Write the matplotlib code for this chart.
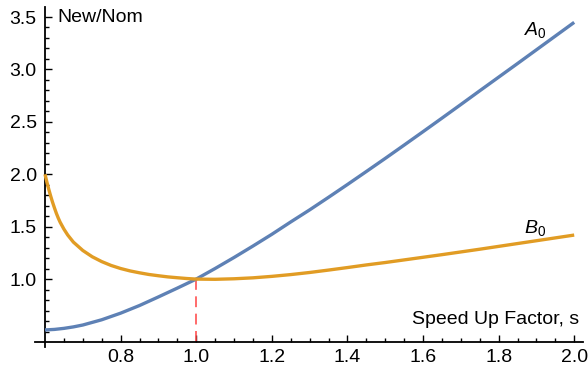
import matplotlib
matplotlib.use("Agg")
import matplotlib.pyplot as plt
import numpy as np
from matplotlib.ticker import FixedLocator

plt.rcParams['font.family'] = ['Liberation Sans', 'DejaVu Sans']
plt.rcParams['mathtext.fontset'] = 'custom'
plt.rcParams['mathtext.rm'] = 'Liberation Sans'
plt.rcParams['mathtext.it'] = 'Liberation Sans:italic'

# Data
s_A = [0.60, 0.625, 0.65, 0.675, 0.70, 0.75, 0.80, 0.85, 0.90, 0.95, 1.00, 1.05, 1.10, 1.15,
       1.20, 1.25, 1.30, 1.35, 1.40, 1.45, 1.50, 1.55, 1.60, 1.65, 1.70, 1.75,
       1.80, 1.85, 1.90, 1.95, 2.00]
A0 = [0.515, 0.520, 0.530, 0.544, 0.562, 0.612, 0.675, 0.748, 0.830, 0.914, 1.000, 1.101, 1.206,
      1.315, 1.427, 1.545, 1.660, 1.780, 1.902, 2.026, 2.151, 2.278, 2.406, 2.535,
      2.665, 2.796, 2.926, 3.056, 3.187, 3.318, 3.449]

s_B = [0.600, 0.605, 0.610, 0.615, 0.620, 0.625, 0.630, 0.635, 0.640, 0.650, 0.660,
       0.675, 0.700, 0.725, 0.750, 0.775, 0.800, 0.825, 0.850, 0.875, 0.900, 0.925,
       0.950, 0.975, 1.000, 1.050, 1.100, 1.150, 1.200, 1.250, 1.300, 1.350, 1.400,
       1.450, 1.500, 1.550, 1.600, 1.650, 1.700, 1.750, 1.800, 1.850, 1.900, 1.950,
       2.000]
B0 = [2.000, 1.925, 1.856, 1.792, 1.733, 1.679, 1.628, 1.583, 1.543, 1.477, 1.421,
      1.353, 1.273, 1.213, 1.167, 1.130, 1.101, 1.078, 1.060, 1.044, 1.032, 1.021,
      1.013, 1.0055, 1.000, 0.998, 1.003, 1.012, 1.026, 1.043, 1.063, 1.086, 1.110,
      1.135, 1.158, 1.183, 1.208, 1.233, 1.259, 1.285, 1.312, 1.339, 1.366, 1.393,
      1.420]

x_major = [0.8, 1.0, 1.2, 1.4, 1.6, 1.8, 2.0]
x_labels = ["0.8", "1.0", "1.2", "1.4", "1.6", "1.8", "2.0"]
y_major = [1.0, 1.5, 2.0, 2.5, 3.0, 3.5]
y_labels = ["1.0", "1.5", "2.0", "2.5", "3.0", "3.5"]
x_minor = [0.65, 0.70, 0.75, 0.85, 0.90, 0.95, 1.05, 1.10, 1.15, 1.25, 1.30, 1.35,
           1.45, 1.50, 1.55, 1.65, 1.70, 1.75, 1.85, 1.90, 1.95]
y_minor = [0.5, 0.6, 0.7, 0.8, 0.9, 1.1, 1.2, 1.3, 1.4, 1.6, 1.7, 1.8, 1.9, 2.1,
           2.2, 2.3, 2.4, 2.6, 2.7, 2.8, 2.9, 3.1, 3.2, 3.3, 3.4]
s_mark = 1.0
v_mark = 1.0

blue = '#5E81B5'
orange = '#E19C24'
FS = 14

fig = plt.figure(figsize=(5.88, 3.75), dpi=100)
ax = fig.add_axes([35/588, 1 - 347/375, (583 - 35)/588, (347 - 7)/375])
ax.set_xlim(0.6 - 10/378, 0.6 + (583 - 45)/378)
ax.set_ylim(0.4 - 5/104.8, 3.5 + 10/104.8)

ax.plot(s_A, A0, color=blue, lw=2.4, solid_capstyle='butt', zorder=3)
ax.plot(s_B, B0, color=orange, lw=2.4, solid_capstyle='butt', zorder=4)
ax.plot([s_mark, s_mark], [v_mark, 0.4], color='#FF4444', alpha=0.85, lw=1.3,
        linestyle=(0, (6.0, 3.6)), zorder=2)

for side in ['top', 'right']:
    ax.spines[side].set_visible(False)
ax.spines['left'].set_position(('data', 0.6))
ax.spines['bottom'].set_position(('data', 0.4))
for side in ['left', 'bottom']:
    ax.spines[side].set_linewidth(1.3)
    ax.spines[side].set_color('black')

ax.xaxis.set_major_locator(FixedLocator(x_major))
ax.set_xticklabels(x_labels)
ax.xaxis.set_minor_locator(FixedLocator(x_minor))
ax.yaxis.set_major_locator(FixedLocator(y_major))
ax.set_yticklabels(y_labels)
ax.yaxis.set_minor_locator(FixedLocator(y_minor))
ax.tick_params(which='major', direction='in', length=5, width=1.0, labelsize=FS,
               color='black')
ax.tick_params(which='minor', direction='in', length=3, width=1.0, color='black')
ax.tick_params(axis='x', which='major', pad=5)
ax.tick_params(axis='y', which='major', pad=6)

ax.text(0.6 + 12/378, 3.5, "New/Nom", fontsize=FS, ha='left', va='center')
ax.text(0.6 + (579 - 45)/378, 0.4 + 22/104.8, "Speed Up Factor, s", fontsize=FS,
        ha='right', va='center')
ax.text(1.867, 3.328, r"$\mathit{A}_0$", fontsize=FS, ha='left', va='baseline')
ax.text(1.867, 1.439, r"$\mathit{B}_0$", fontsize=FS, ha='left', va='baseline')

fig.savefig("out.png", dpi=100)
